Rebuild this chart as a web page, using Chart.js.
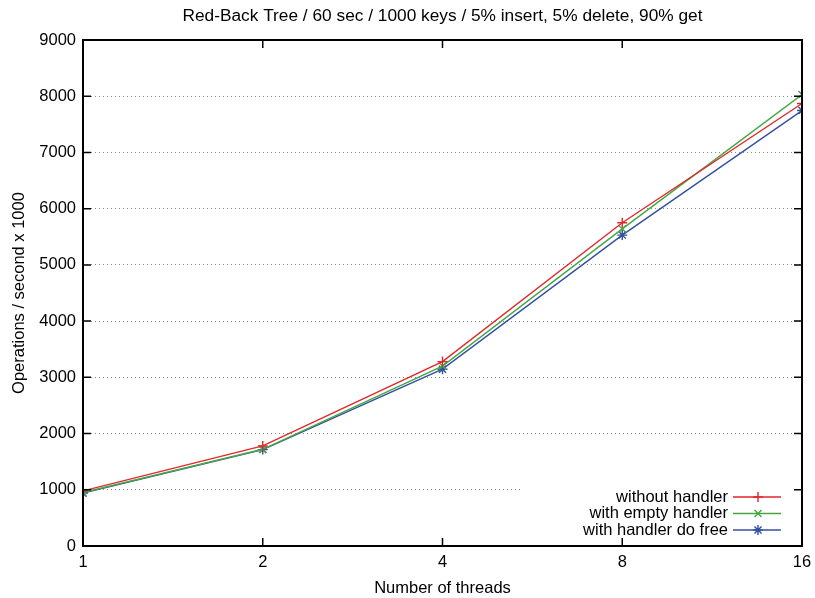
<!DOCTYPE html>
<html>
<head>
<meta charset="utf-8">
<script src="https://cdn.jsdelivr.net/npm/chart.js@4/dist/chart.umd.min.js"></script>
<style>
  html, body { margin: 0; padding: 0; background: #fff; }
  #wrap { width: 815px; height: 598px; }
</style>
</head>
<body>
<div id="wrap"><canvas id="tree-chart"></canvas></div>
<script>
const threads = [1, 2, 4, 8, 16];
const withoutHandler = [980, 1780, 3280, 5750, 7870];
const withEmptyHandler = [950, 1720, 3200, 5640, 8030];
const withHandlerFree = [940, 1715, 3145, 5530, 7745];
const yTicks = [0, 1000, 2000, 3000, 4000, 5000, 6000, 7000, 8000, 9000];
const chartTitle = 'Red-Back Tree / 60 sec / 1000 keys / 5% insert, 5% delete, 90% get';

const FONT = '"Liberation Sans", Arial, Helvetica, sans-serif';

Chart.defaults.font.family = FONT;
Chart.defaults.font.size = 16.5;
Chart.defaults.color = '#000';

function pts(ys) {
	return threads.map((t, i) => ({ x: t, y: ys[i] }));
}

function series(label, ys, color, style) {
	return {
		label: label,
		data: pts(ys),
		borderColor: color,
		backgroundColor: color,
		borderWidth: 1.4,
		pointStyle: style,
		pointRadius: 5,
		pointBorderWidth: 1.4,
		pointBorderColor: color,
		pointBackgroundColor: 'transparent',
		tension: 0
	};
}

// gnuplot look: framed box, inward ticks, legend inside at bottom right,
// title centred over the plot area
const gnuFrame = {
	id: 'gnuFrame',
	beforeDatasetsDraw(chart) {
		const { ctx, chartArea: a } = chart;
		const rows = chart.data.datasets;
		ctx.save();
		ctx.fillStyle = '#fff';
		ctx.fillRect(522, 480, a.right - 522 - 1, a.bottom - 480 - 1);
		ctx.font = '16.5px ' + FONT;
		ctx.textAlign = 'right';
		ctx.textBaseline = 'middle';
		rows.forEach((ds, i) => {
			const y = 497 + i * 16.5;
			ctx.fillStyle = '#000';
			ctx.fillText(ds.label, 728, y);
			ctx.strokeStyle = ds.borderColor;
			ctx.lineWidth = ds.borderWidth;
			ctx.beginPath();
			ctx.moveTo(733, y);
			ctx.lineTo(781, y);
			ctx.stroke();
			Chart.helpers.drawPoint(ctx, {
				pointStyle: ds.pointStyle,
				radius: ds.pointRadius,
				rotation: 0,
				borderWidth: ds.pointBorderWidth
			}, 758, y);
		});
		ctx.restore();
	},
	afterDatasetsDraw(chart) {
		const { ctx, chartArea: a, scales } = chart;
		ctx.save();
		ctx.strokeStyle = '#000';
		ctx.lineWidth = 1.5;
		ctx.beginPath();
		yTicks.forEach(v => {
			const y = scales.y.getPixelForValue(v);
			ctx.moveTo(a.left, y); ctx.lineTo(a.left + 8, y);
			ctx.moveTo(a.right, y); ctx.lineTo(a.right - 8, y);
		});
		threads.forEach(v => {
			const x = scales.x.getPixelForValue(v);
			ctx.moveTo(x, a.bottom); ctx.lineTo(x, a.bottom - 8);
			ctx.moveTo(x, a.top); ctx.lineTo(x, a.top + 8);
		});
		ctx.stroke();
		ctx.lineWidth = 2;
		ctx.strokeRect(a.left, a.top, a.right - a.left, a.bottom - a.top);

		ctx.fillStyle = '#000';
		ctx.font = '17.3px ' + FONT;
		ctx.textAlign = 'center';
		ctx.textBaseline = 'middle';
		ctx.fillText(chartTitle, (a.left + a.right) / 2, 16);
		ctx.restore();
	}
};

new Chart(document.getElementById('tree-chart'), {
	type: 'line',
	data: {
		datasets: [
			series('without handler', withoutHandler, '#e3262b', 'cross'),
			series('with empty handler', withEmptyHandler, '#43a843', 'crossRot'),
			series('with handler do free', withHandlerFree, '#3250a0', 'star')
		]
	},
	options: {
		responsive: true,
		maintainAspectRatio: false,
		animation: false,
		layout: { padding: { left: 0, right: 13, top: 40, bottom: 0 } },
		plugins: {
			legend: { display: false },
			tooltip: { enabled: false },
			title: { display: false }
		},
		scales: {
			x: {
				type: 'logarithmic',
				min: 1,
				max: 16,
				afterBuildTicks: s => { s.ticks = threads.map(v => ({ value: v })); },
				afterFit: s => { s.height = 52; s.paddingLeft = 0; s.paddingRight = 0; },
				grid: { display: false, drawTicks: false },
				border: { display: false },
				ticks: { padding: 7, maxRotation: 0, callback: v => String(v) },
				title: { display: true, text: 'Number of threads', padding: 0 }
			},
			y: {
				min: 0,
				max: 9000,
				afterBuildTicks: s => { s.ticks = yTicks.map(v => ({ value: v })); },
				afterFit: s => { s.width = 83; s.paddingTop = 0; s.paddingBottom = 0; },
				grid: {
					drawTicks: false,
					color: '#888',
					lineWidth: 1,
					borderDash: [1, 3]
				},
				border: { display: false, dash: [1, 3] },
				ticks: { padding: 7, callback: v => String(v) },
				title: { display: true, text: 'Operations / second x 1000', padding: { top: 10, bottom: 0 } }
			}
		}
	},
	plugins: [gnuFrame]
});
</script>
</body>
</html>
